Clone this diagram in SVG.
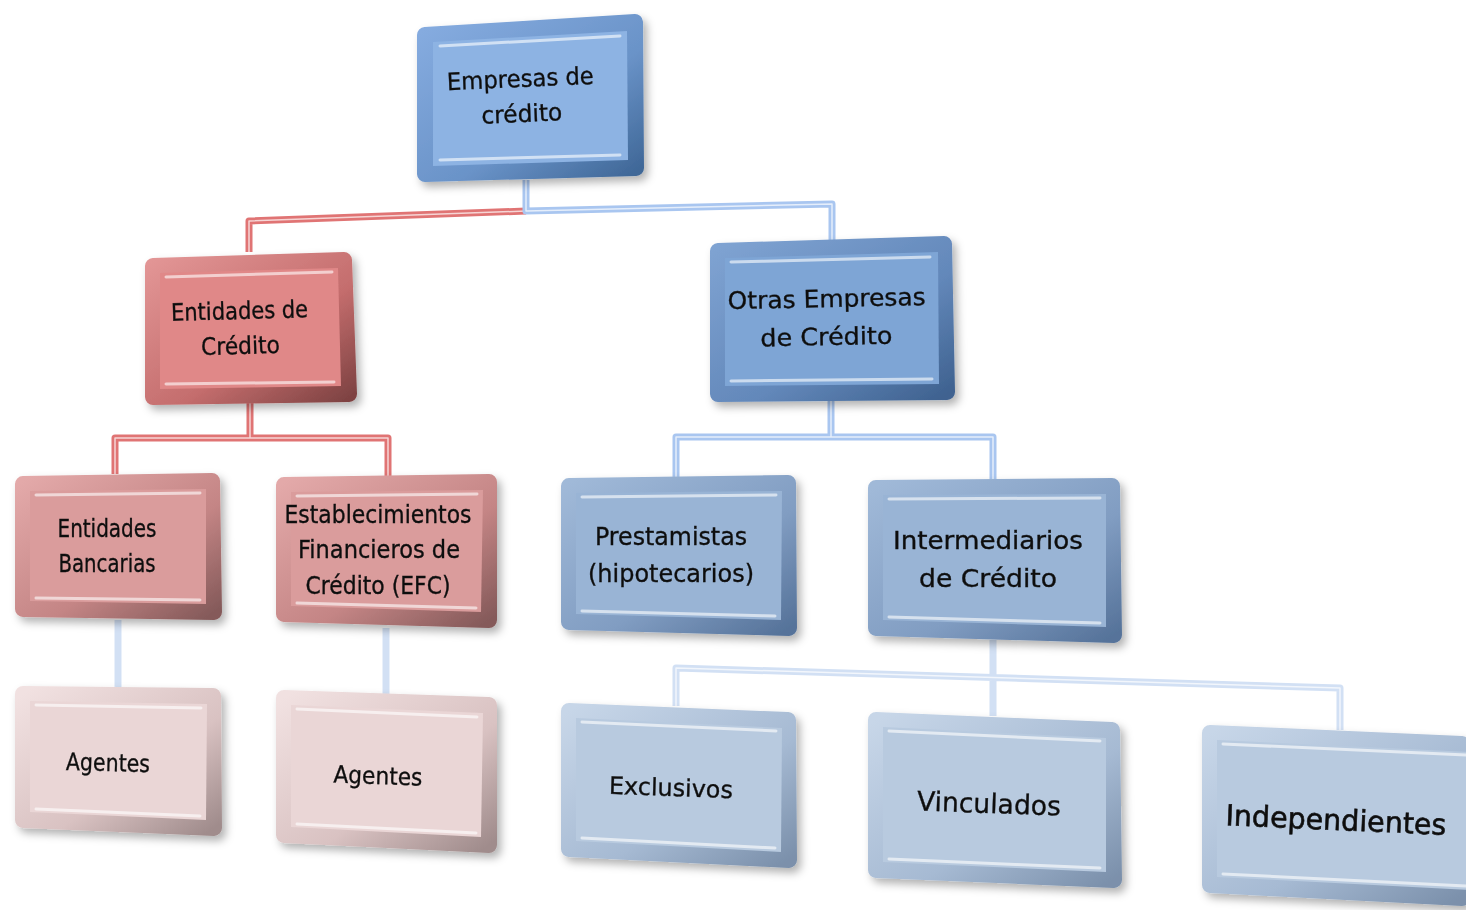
<svg xmlns="http://www.w3.org/2000/svg" width="1466" height="910" viewBox="0 0 1466 910">
<defs>
<filter id="sh" x="-10%" y="-10%" width="125%" height="130%"><feDropShadow dx="4" dy="5" stdDeviation="4" flood-color="#000" flood-opacity="0.3"/></filter>
<linearGradient id="gB1" x1="0" y1="0" x2="1" y2="1"><stop offset="0" stop-color="#86ace0"/><stop offset="0.6" stop-color="#6a93c8"/><stop offset="1" stop-color="#3f6797"/></linearGradient>
<linearGradient id="gB2" x1="0" y1="0" x2="1" y2="1"><stop offset="0" stop-color="#7fa3d2"/><stop offset="0.6" stop-color="#6388ba"/><stop offset="1" stop-color="#3f6290"/></linearGradient>
<linearGradient id="gB3" x1="0" y1="0" x2="1" y2="1"><stop offset="0" stop-color="#a0b9d8"/><stop offset="0.6" stop-color="#819dc2"/><stop offset="1" stop-color="#56739a"/></linearGradient>
<linearGradient id="gB4" x1="0" y1="0" x2="1" y2="1"><stop offset="0" stop-color="#c7d6e8"/><stop offset="0.6" stop-color="#a6bad3"/><stop offset="1" stop-color="#7b90ab"/></linearGradient>
<linearGradient id="gR1" x1="0" y1="0" x2="1" y2="1"><stop offset="0" stop-color="#e29595"/><stop offset="0.6" stop-color="#c46d6d"/><stop offset="1" stop-color="#7f4343"/></linearGradient>
<linearGradient id="gR2" x1="0" y1="0" x2="1" y2="1"><stop offset="0" stop-color="#e3a9a9"/><stop offset="0.6" stop-color="#c48585"/><stop offset="1" stop-color="#855a5a"/></linearGradient>
<linearGradient id="gR3" x1="0" y1="0" x2="1" y2="1"><stop offset="0" stop-color="#f1e1e1"/><stop offset="0.6" stop-color="#d9c2c2"/><stop offset="1" stop-color="#a08c8c"/></linearGradient>
</defs>
<style>
.o{stroke-width:16;stroke-linejoin:round}
.hl{fill:none;stroke:#fff;stroke-width:3;stroke-linecap:round;opacity:.6}
text{font-family:"DejaVu Sans","Liberation Sans",sans-serif;font-size:24px;fill:#111;stroke:#111;stroke-width:0.35;text-anchor:middle}
.b1 .o{fill:url(#gB1);stroke:url(#gB1)} .b1 .i{fill:#8db3e3}
.b2 .o{fill:url(#gB2);stroke:url(#gB2)} .b2 .i{fill:#7ea5d5}
.b3 .o{fill:url(#gB3);stroke:url(#gB3)} .b3 .i{fill:#99b4d5}
.b4 .o{fill:url(#gB4);stroke:url(#gB4)} .b4 .i{fill:#b8cadf}
.r1 .o{fill:url(#gR1);stroke:url(#gR1)} .r1 .i{fill:#e08888}
.r2 .o{fill:url(#gR2);stroke:url(#gR2)} .r2 .i{fill:#da9c9c}
.r3 .o{fill:url(#gR3);stroke:url(#gR3)} .r3 .i{fill:#ead6d6}
.cr{fill:none;stroke:#e07474;stroke-width:7;stroke-linejoin:round}
.cb{fill:none;stroke:#a9c6f0;stroke-width:7;stroke-linejoin:round}
.cl{fill:none;stroke:#d2e0f4;stroke-width:7;stroke-linejoin:round}
.ci{fill:none;stroke:#fff;stroke-width:1.5;opacity:.7;stroke-linejoin:round}
</style>
<rect width="1466" height="910" fill="#fff"/>
<g id="connectors">
<path class="cr" d="M249,252 V221 L526,211"/>
<path class="ci" d="M249,252 V221 L526,211"/>
<path class="cb" d="M526,180 V211 L832,204 V242"/>
<path class="ci" d="M526,180 V211 L832,204 V242"/>
<path class="cr" d="M250,402 V438 M115,474 V438 H388 V476"/>
<path class="ci" d="M250,402 V438 M115,474 V438 H388 V476"/>
<path class="cb" d="M831,400 V437 M676,480 V437 H993 V482"/>
<path class="ci" d="M831,400 V437 M676,480 V437 H993 V482"/>
<path class="cl" d="M118,620 V688"/>
<path class="cl" d="M386,628 V694"/>
<path class="cl" d="M993,640 V716 M676,706 V668 L1340,688 V730"/>
<path class="ci" d="M676,706 V668 L1340,688 V730"/>
</g>
<g id="n1" class="b1" filter="url(#sh)">
<polygon class="o" points="425,35 635,22 636,168 425,174"/>
<polygon class="i" points="433,42 627,31 628,160 433,166"/>
<path class="hl" d="M440,46 L620,36 M440,160 L620,155"/>
<text transform="rotate(-2.5 521 95)"><tspan x="521" y="87" textLength="147" lengthAdjust="spacingAndGlyphs">Empresas de</tspan><tspan x="521" y="122" textLength="81" lengthAdjust="spacingAndGlyphs">crédito</tspan></text>
</g>
<g id="n2" class="r1" filter="url(#sh)">
<polygon class="o" points="153,266 344,260 349,394 153,397"/>
<polygon class="i" points="160,273 338,268 341,386 160,389"/>
<path class="hl" d="M166,277 L332,272 M166,384 L334,382"/>
<text transform="rotate(-1.5 240 328)"><tspan x="240" y="319" textLength="137" lengthAdjust="spacingAndGlyphs">Entidades de</tspan><tspan x="240" y="354" textLength="79" lengthAdjust="spacingAndGlyphs">Crédito</tspan></text>
</g>
<g id="n3" class="b2" filter="url(#sh)">
<polygon class="o" points="718,251 944,244 947,392 718,394"/>
<polygon class="i" points="725,258 938,252 939,384 725,386"/>
<path class="hl" d="M731,262 L930,257 M731,381 L932,379"/>
<text transform="rotate(-1.2 826 317)"><tspan x="827" y="307" textLength="198" lengthAdjust="spacingAndGlyphs">Otras Empresas</tspan><tspan x="826" y="345" textLength="132" lengthAdjust="spacingAndGlyphs">de Crédito</tspan></text>
</g>
<g id="n4" class="r2" filter="url(#sh)">
<polygon class="o" points="23,484 212,481 214,612 23,609"/>
<polygon class="i" points="30,491 206,489 206,604 30,601"/>
<path class="hl" d="M36,495 L200,493 M36,598 L200,600"/>
<text><tspan x="107" y="537" textLength="99" lengthAdjust="spacingAndGlyphs">Entidades</tspan><tspan x="107" y="572" textLength="97" lengthAdjust="spacingAndGlyphs">Bancarias</tspan></text>
</g>
<g id="n5" class="r2" filter="url(#sh)">
<polygon class="o" points="284,485 489,482 489,620 284,614"/>
<polygon class="i" points="291,492 483,490 481,612 291,606"/>
<path class="hl" d="M297,496 L477,494 M297,603 L476,608"/>
<text><tspan x="378" y="523" textLength="187" lengthAdjust="spacingAndGlyphs">Establecimientos</tspan><tspan x="379" y="558" textLength="162" lengthAdjust="spacingAndGlyphs">Financieros de</tspan><tspan x="378" y="594" textLength="145" lengthAdjust="spacingAndGlyphs">Crédito (EFC)</tspan></text>
</g>
<g id="n6" class="b3" filter="url(#sh)">
<polygon class="o" points="569,486 788,483 789,628 569,622"/>
<polygon class="i" points="576,493 782,491 781,620 576,614"/>
<path class="hl" d="M582,497 L776,495 M582,611 L775,616"/>
<text><tspan x="671" y="545" textLength="152" lengthAdjust="spacingAndGlyphs">Prestamistas</tspan><tspan x="671" y="582" textLength="166" lengthAdjust="spacingAndGlyphs">(hipotecarios)</tspan></text>
</g>
<g id="n7" class="b3" filter="url(#sh)">
<polygon class="o" points="876,488 1112,486 1114,635 876,628"/>
<polygon class="i" points="883,495 1106,494 1106,627 883,620"/>
<path class="hl" d="M889,499 L1100,498 M889,617 L1100,623"/>
<text><tspan x="988" y="549" textLength="190" lengthAdjust="spacingAndGlyphs">Intermediarios</tspan><tspan x="988" y="587" textLength="138" lengthAdjust="spacingAndGlyphs">de Crédito</tspan></text>
</g>
<g id="n8" class="r3" filter="url(#sh)">
<polygon class="o" points="23,694 213,696 214,828 23,820"/>
<polygon class="i" points="30,701 207,704 206,820 30,812"/>
<path class="hl" d="M36,705 L201,708 M36,809 L200,816"/>
<text transform="rotate(1.5 108 762)"><tspan x="108" y="771" textLength="84" lengthAdjust="spacingAndGlyphs">Agentes</tspan></text>
</g>
<g id="n9" class="r3" filter="url(#sh)">
<polygon class="o" points="284,698 489,705 489,845 284,835"/>
<polygon class="i" points="291,705 483,713 481,837 291,827"/>
<path class="hl" d="M297,709 L477,717 M297,824 L476,833"/>
<text transform="rotate(2 378 775)"><tspan x="378" y="784" textLength="89" lengthAdjust="spacingAndGlyphs">Agentes</tspan></text>
</g>
<g id="n10" class="b4" filter="url(#sh)">
<polygon class="o" points="569,711 788,720 789,860 569,849"/>
<polygon class="i" points="576,718 782,728 781,852 576,841"/>
<path class="hl" d="M582,722 L776,731 M582,838 L775,848"/>
<text transform="rotate(2 671 787)"><tspan x="671" y="796" textLength="124" lengthAdjust="spacingAndGlyphs">Exclusivos</tspan></text>
</g>
<g id="n11" class="b4" filter="url(#sh)">
<polygon class="o" points="876,720 1112,730 1114,880 876,870"/>
<polygon class="i" points="883,727 1106,738 1106,872 883,862"/>
<path class="hl" d="M889,731 L1100,741 M889,859 L1100,868"/>
<text transform="rotate(2 989 803)" style="font-size:27px"><tspan x="989" y="813" textLength="144" lengthAdjust="spacingAndGlyphs">Vinculados</tspan></text>
</g>
<g id="n12" class="b4" filter="url(#sh)">
<polygon class="o" points="1210,733 1462,744 1462,898 1210,885"/>
<polygon class="i" points="1217,740 1470,752 1470,890 1217,877"/>
<path class="hl" d="M1223,744 L1466,755 M1223,874 L1466,886"/>
<text transform="rotate(2.5 1336 820)" style="font-size:29px;stroke-width:0.6"><tspan x="1336" y="830" textLength="221" lengthAdjust="spacingAndGlyphs">Independientes</tspan></text>
</g>
</svg>
